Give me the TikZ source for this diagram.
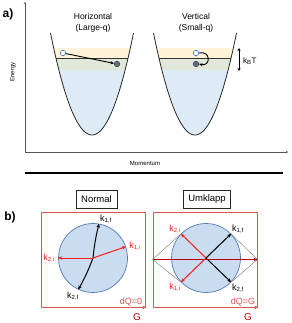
\documentclass[tikz,border=0pt]{standalone}
\usepackage{fontspec}
\setmainfont{Liberation Sans}
\usetikzlibrary{arrows.meta,positioning,calc}
\definecolor{bandyel}{HTML}{FFF4DA}
\definecolor{bandgrn}{HTML}{E1E7D9}
\definecolor{bandblu}{HTML}{DDEBF7}
\definecolor{elblue}{HTML}{4472C4}
\definecolor{elgray}{HTML}{6E6E6E}
\definecolor{axgray}{HTML}{555555}
\definecolor{bzfill}{HTML}{CADCF0}
\definecolor{bzedge}{HTML}{5479B5}
\definecolor{boxred}{HTML}{D9534F}
\definecolor{kred}{HTML}{FF1A1A}
\definecolor{gred}{HTML}{C00000}
\tikzset{
  plabel/.style={font=\bfseries\fontsize{12}{14}\selectfont, inner sep=1pt},
  lbl/.style={font=\fontsize{8.5}{11}\selectfont, align=center, inner sep=1pt},
  axlbl/.style={font=\fontsize{6}{7}\selectfont, inner sep=1pt},
  ax/.style={draw=axgray, line width=0.9pt},
  bowl/.style={draw=black!85, line width=0.8pt},
  eopen/.style={circle, draw=elblue, fill=white, line width=0.6pt, minimum size=5.5pt, inner sep=0pt},
  efull/.style={eopen, draw=elblue!60!black, fill=elgray},
  arr/.style={-{Stealth[length=3.5pt,width=3pt]}, line width=0.9pt},
  arr2/.style={{Stealth[length=3pt,width=3pt]}-{Stealth[length=3pt,width=3pt]}, line width=0.8pt},
  tag/.style={draw=black!85, line width=0.6pt, font=\fontsize{9.5}{11}\selectfont, minimum height=18pt, inner xsep=5pt},
  zone/.style={draw=boxred, line width=0.8pt, minimum width=104pt, minimum height=95pt},
  bz/.style={circle, draw=bzedge, fill=bzfill, line width=0.7pt, minimum size=69pt, inner sep=0pt},
  karr/.style={-{Stealth[length=4pt,width=3.5pt]}, line width=1pt},
  rarr/.style={karr, color=kred},
  harr/.style={karr, color=gred},
  garr/.style={-{Stealth[length=4pt,width=3.5pt]}, line width=1pt, color=boxred},
  guide/.style={draw=black!55, line width=0.4pt},
  klbl/.style={font=\fontsize{9}{10}\selectfont, inner sep=1pt},
  rlbl/.style={klbl, text=kred},
  dq/.style={klbl, text=boxred},
  glbl/.style={font=\fontsize{10}{12}\selectfont, text=gred, inner sep=1pt},
}
\begin{document}
\begin{tikzpicture}[x=1pt,y=-1pt]
  \useasboundingbox (0,0) rectangle (291,323);
  \foreach \cx in {92,195}{
    \begin{scope}
      \clip plot[domain=-41.5:41.5,samples=60] ({\cx+\x},{135-102*(\x/41.5)^2});
      \fill[bandyel] (\cx-45,48) rectangle (\cx+45,58);
      \fill[bandgrn] (\cx-45,58) rectangle (\cx+45,70);
      \fill[bandblu] (\cx-45,70) rectangle (\cx+45,136);
      \draw[line width=0.8pt, black!80] (\cx-45,58) -- (\cx+45,58);
    \end{scope}
    \draw[bowl] plot[domain=-41.5:41.5,samples=60] ({\cx+\x},{135-102*(\x/41.5)^2});
  }
  \coordinate (ytop) at (25,2);
  \coordinate (orig) at (25,152);
  \coordinate (xend) at (288,152);
  \draw[ax, {Stealth[length=2pt,width=2.5pt]}-{Stealth[length=2pt,width=2.5pt]}] (ytop) -- (orig) -- (xend);
  \node[axlbl, rotate=90] (energy) at (13,72) {Energy};
  \node[axlbl] (mom) at (145,163) {Momentum};
  \coordinate (sepl) at (25,173); \coordinate (sepr) at (283,173);
  \draw[line width=1.1pt] (sepl) -- (sepr);
  \node[plabel] (pa) at (8,14) {a)};
  \node[lbl] (th) at (93,23) {Horizontal\\(Large-q)};
  \node[lbl] (tv) at (196,23) {Vertical\\(Small-q)};
  \node[eopen] (lo) at (63,53) {};
  \node[efull] (lf) at (117,64) {};
  \node[eopen] (ro) at (196,53) {};
  \node[efull] (rf) at (196,64) {};
  \draw[arr] (lo) -- (lf);
  \draw[arr] (ro.east) .. controls (211,50) and (211,67) .. (rf.east);
  \coordinate (kbtop) at (239,48); \coordinate (kbbot) at (239,71);
  \draw[arr2] (kbtop) -- (kbbot);
  \node[lbl, font=\fontsize{8}{10}\selectfont, anchor=west] (kbt) at (242,61) {k\textsubscript{B}T};
  \node[plabel] (pb) at (10,217) {b)};
  \node[tag] (tn) at (96.5,199) {Normal};
  \node[tag] (tu) at (207,199) {Umklapp};
  \node[zone] (zn) at (93,259.5) {};
  \node[zone] (zu) at (205,259.5) {};
  \draw[garr] (zn.south west) -- ($(zn.south east)+(1,0)$);
  \draw[garr] (zu.south west) -- ($(zu.south east)+(1,0)$);
  \node[glbl] (gn) at (137,317) {G};
  \node[glbl] (gu) at (248,317) {G};
  \node[dq] (dqn) at (131,302) {dQ=0};
  \node[dq] (dqu) at (243,302) {dQ=G};
  \node[bz] (bn) at (93,258) {};
  \draw[karr] (bn.center) to[bend left=4] (bn.80);
  \draw[karr] (bn.center) to[bend left=4] (bn.245);
  \draw[rarr] (bn.center) -- (bn.19);
  \draw[rarr] (bn.center) -- (bn.180);
  \node[klbl] (n1f) at (106,219) {k\textsubscript{1,f}};
  \node[rlbl] (n1i) at (135,246) {k\textsubscript{1,i}};
  \node[rlbl] (n2i) at (49,258) {k\textsubscript{2,i}};
  \node[klbl] (n2f) at (73,296) {k\textsubscript{2,f}};
  \node[bz] (bu) at (206,258) {};
  \draw[guide] (bu.136) -- (zu.west) -- (bu.224);
  \draw[guide] (bu.44) -- (zu.east) -- (bu.316);
  \draw[harr] (zu.west) -- (zu.east);
  \draw[rarr] (bu.center) -- (bu.136);
  \draw[rarr] (bu.center) -- (bu.224);
  \draw[karr] (bu.center) -- (bu.44);
  \draw[karr] (bu.center) -- (bu.316);
  \node[rlbl] (u2i) at (175,229) {k\textsubscript{2,i}};
  \node[klbl] (u1f) at (238,229) {k\textsubscript{1,f}};
  \node[rlbl] (u1i) at (175,287) {k\textsubscript{1,i}};
  \node[klbl] (u2f) at (238,288) {k\textsubscript{2,f}};
\end{tikzpicture}
\end{document}
